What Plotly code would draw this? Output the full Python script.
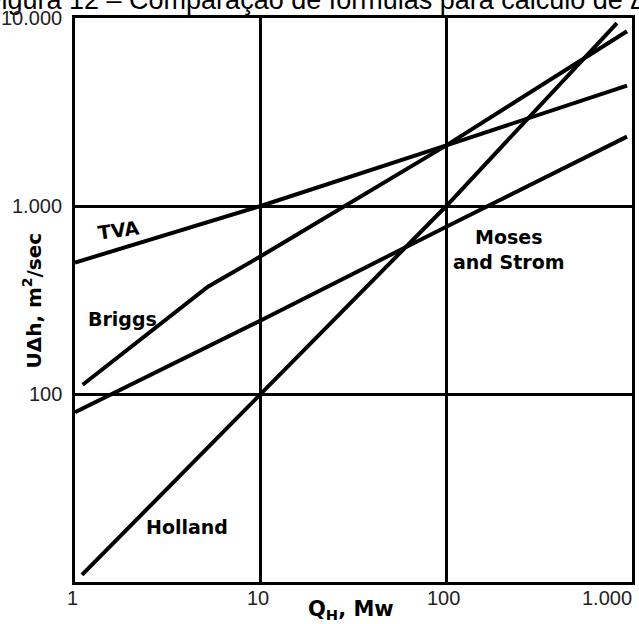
import math
import plotly.graph_objects as go

# Data (log-log)
tva_q = [1.0, 10, 100, 940]
tva_dh = [500, 1000, 2100, 4370]

briggs_q = [1.1, 5.2, 10, 100, 940]
briggs_dh = [112, 372, 540, 2100, 8500]

moses_q = [1.0, 10, 100, 940]
moses_dh = [80, 246, 776, 2340]

holland_q = [1.09, 10, 100, 830]
holland_dh = [10.9, 100, 1000, 9400]

x_ticks = [1, 10, 100, 1000]
x_ticktext = ["1", "10", "100", "1.000"]
y_ticks = [100, 1000, 10000]
y_ticktext = ["100", "1.000", "10.000"]

fig = go.Figure()
for q, dh, name in [(tva_q, tva_dh, "TVA"), (briggs_q, briggs_dh, "Briggs"),
                    (moses_q, moses_dh, "Moses and Strom"), (holland_q, holland_dh, "Holland")]:
    fig.add_trace(go.Scatter(x=q, y=dh, mode="lines", name=name,
                             line=dict(color="black", width=4), showlegend=False))

lab_font = dict(family="DejaVu Sans", size=19, color="black")
fig.add_annotation(x=0.235, y=2.87, xref="x", yref="y", text="<b>TVA</b>", showarrow=False,
                   font=lab_font, textangle=-8)
fig.add_annotation(x=0.255, y=2.40, xref="x", yref="y", text="<b>Briggs</b>", showarrow=False,
                   font=lab_font)
fig.add_annotation(x=2.335, y=2.77, xref="x", yref="y", text="<b>Moses<br>and Strom</b>",
                   showarrow=False, font=lab_font, align="center")
fig.add_annotation(x=0.605, y=1.29, xref="x", yref="y", text="<b>Holland</b>", showarrow=False,
                   font=lab_font)

# Title (clipped at top/left like the reference)
fig.add_annotation(x=0, y=1.0284, xref="paper", yref="paper", xanchor="left", yanchor="middle",
                   xshift=-92, yshift=2,
                   text="Figura 12 – Comparação de fórmulas para cálculo de Δh", showarrow=False,
                   font=dict(family="Liberation Sans, Arial", size=27, color="black"))

# Y axis title
fig.add_annotation(x=0, y=0.499, xref="paper", yref="paper", xanchor="center", yanchor="middle",
                   xshift=-43, textangle=-90, showarrow=False,
                   text="<b>UΔh, m<sup>2</sup>/sec</b>",
                   font=dict(family="DejaVu Sans", size=20, color="black"))

# X axis title
fig.add_annotation(x=0.5, y=0, xref="paper", yref="paper", xanchor="center", yanchor="middle",
                   xshift=-3, yshift=-28, showarrow=False,
                   text="<b>Q<sub>H</sub>, Mw</b>",
                   font=dict(family="DejaVu Sans", size=21, color="black"))

tick_font = dict(family="Liberation Sans, Arial", size=20, color="#222")

# X tick labels (last one kept inside the figure like the reference)
for v, t in zip(x_ticks, x_ticktext):
    last = v == x_ticks[-1]
    fig.add_annotation(x=math.log10(v), y=0, xref="x", yref="paper",
                       xanchor="right" if last else "center", yanchor="top",
                       xshift=2 if last else -3, yshift=-3, showarrow=False, text=t,
                       font=tick_font)

# Y tick labels
for v, t in zip(y_ticks, y_ticktext):
    fig.add_annotation(x=0, y=math.log10(v), xref="paper", yref="y",
                       xanchor="right", yanchor="middle", xshift=-11, showarrow=False,
                       text=t, font=tick_font)

fig.update_xaxes(type="log", range=[0, 3], tickvals=x_ticks,
                 showgrid=True, gridcolor="black", gridwidth=3,
                 showline=True, linecolor="black", linewidth=3, mirror=True,
                 ticks="", zeroline=False, showticklabels=False)
fig.update_yaxes(type="log", range=[1, 4], tickvals=y_ticks,
                 showgrid=True, gridcolor="black", gridwidth=3,
                 showline=True, linecolor="black", linewidth=3, mirror=True,
                 ticks="", zeroline=False, showticklabels=False)

fig.update_layout(width=639, height=624, plot_bgcolor="white", paper_bgcolor="white",
                  margin=dict(l=75, r=4, t=18, b=42))

fig.write_html("out.html")
